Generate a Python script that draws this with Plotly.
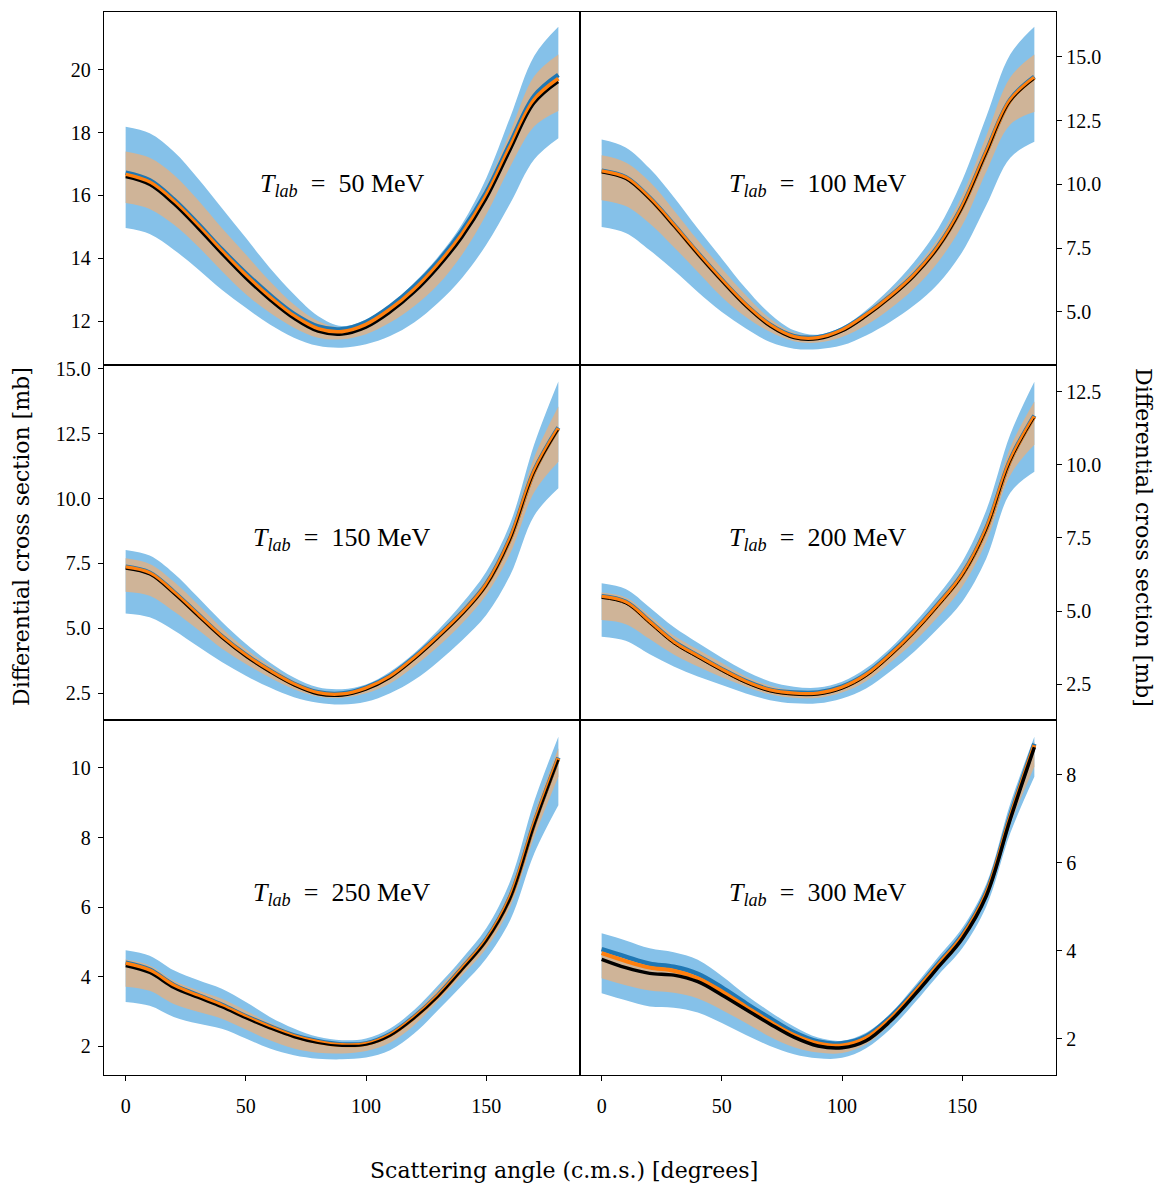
import plotly.graph_objects as go

# ---------------- data ----------------
angles = [0, 10, 20, 30, 40, 50, 60, 70, 80, 90, 100, 110, 120, 130, 140, 150, 160, 170, 180]
energies = ["50", "100", "150", "200", "250", "300"]

# T_lab = 50 MeV
p1_band_hi = [18.19, 17.98, 17.40, 16.55, 15.60, 14.65, 13.69, 12.85, 12.16, 11.84, 12.05, 12.53, 13.22, 14.05, 15.10, 16.55, 18.50, 20.45, 21.37]
p1_band_lo = [14.96, 14.77, 14.27, 13.66, 13.00, 12.42, 11.89, 11.47, 11.21, 11.15, 11.26, 11.52, 11.95, 12.58, 13.38, 14.43, 15.75, 17.15, 17.82]
p1_tan_hi = [17.40, 17.20, 16.66, 15.86, 14.96, 14.12, 13.27, 12.53, 12.00, 11.79, 12.00, 12.47, 13.11, 13.92, 14.93, 16.29, 18.03, 19.80, 20.49]
p1_tan_lo = [15.76, 15.57, 15.07, 14.38, 13.59, 12.85, 12.26, 11.79, 11.47, 11.42, 11.58, 11.95, 12.47, 13.16, 14.12, 15.39, 16.92, 18.20, 18.69]
p1_center = [16.66, 16.42, 15.81, 15.04, 14.22, 13.45, 12.76, 12.16, 11.75, 11.66, 11.89, 12.37, 13.00, 13.80, 14.77, 15.99, 17.55, 19.05, 19.72]
p1_blueline = [16.72, 16.48, 15.87, 15.10, 14.28, 13.52, 12.83, 12.23, 11.83, 11.74, 11.97, 12.46, 13.10, 13.90, 14.88, 16.10, 17.67, 19.17, 19.84]
p1_black = [16.58, 16.33, 15.72, 14.95, 14.13, 13.35, 12.66, 12.07, 11.66, 11.57, 11.79, 12.27, 12.90, 13.70, 14.66, 15.88, 17.43, 18.93, 19.61]

# T_lab = 100 MeV
p2_band_hi = [11.76, 11.45, 10.62, 9.51, 8.27, 7.09, 5.92, 4.93, 4.28, 4.11, 4.41, 5.07, 5.92, 6.96, 8.27, 10.16, 12.65, 15.10, 16.18]
p2_band_lo = [8.33, 8.10, 7.42, 6.63, 5.78, 5.00, 4.35, 3.82, 3.56, 3.54, 3.69, 4.08, 4.61, 5.26, 6.11, 7.35, 9.18, 11.05, 11.67]
p2_tan_hi = [11.14, 10.86, 10.10, 8.99, 7.81, 6.70, 5.65, 4.74, 4.18, 4.06, 4.35, 5.00, 5.78, 6.70, 7.88, 9.58, 11.90, 14.20, 15.09]
p2_tan_lo = [9.38, 9.15, 8.47, 7.55, 6.57, 5.59, 4.80, 4.22, 3.85, 3.80, 4.02, 4.48, 5.13, 5.92, 6.96, 8.40, 10.50, 12.35, 12.84]
p2_center = [10.52, 10.26, 9.45, 8.40, 7.29, 6.24, 5.26, 4.48, 4.02, 3.98, 4.28, 4.87, 5.59, 6.44, 7.55, 9.12, 11.25, 13.30, 14.19]
p2_blueline = [10.54, 10.28, 9.47, 8.42, 7.31, 6.26, 5.28, 4.50, 4.05, 4.01, 4.31, 4.90, 5.62, 6.47, 7.58, 9.15, 11.28, 13.33, 14.22]
p2_black = [10.45, 10.19, 9.38, 8.33, 7.22, 6.17, 5.19, 4.41, 3.95, 3.91, 4.21, 4.80, 5.52, 6.37, 7.48, 9.05, 11.18, 13.23, 14.12]

# T_lab = 150 MeV
p3_band_hi = [8.02, 7.80, 7.12, 6.20, 5.25, 4.40, 3.68, 3.10, 2.72, 2.65, 2.83, 3.32, 4.03, 4.93, 5.96, 7.18, 9.05, 12.10, 14.51]
p3_band_lo = [5.57, 5.42, 4.92, 4.30, 3.70, 3.17, 2.71, 2.34, 2.13, 2.06, 2.16, 2.49, 3.00, 3.71, 4.54, 5.51, 7.05, 9.35, 10.40]
p3_tan_hi = [7.70, 7.48, 6.80, 5.92, 5.00, 4.20, 3.55, 2.97, 2.63, 2.55, 2.77, 3.22, 3.94, 4.80, 5.77, 6.92, 8.75, 11.60, 13.55]
p3_tan_lo = [6.41, 6.25, 5.65, 4.95, 4.22, 3.62, 3.10, 2.65, 2.37, 2.32, 2.49, 2.87, 3.52, 4.29, 5.19, 6.28, 7.89, 10.25, 11.42]
p3_center = [7.35, 7.12, 6.38, 5.52, 4.67, 3.95, 3.35, 2.84, 2.50, 2.45, 2.68, 3.13, 3.84, 4.67, 5.57, 6.67, 8.45, 11.05, 12.71]
p3_blueline = [7.37, 7.14, 6.40, 5.54, 4.69, 3.97, 3.37, 2.86, 2.53, 2.48, 2.71, 3.16, 3.87, 4.70, 5.60, 6.70, 8.48, 11.08, 12.74]
p3_black = [7.28, 7.05, 6.31, 5.45, 4.60, 3.88, 3.28, 2.77, 2.43, 2.38, 2.61, 3.06, 3.77, 4.60, 5.50, 6.60, 8.38, 10.98, 12.64]

# T_lab = 200 MeV
p4_band_hi = [5.95, 5.75, 5.12, 4.45, 3.91, 3.40, 2.94, 2.59, 2.41, 2.38, 2.58, 3.04, 3.72, 4.58, 5.55, 6.69, 8.45, 11.05, 12.85]
p4_band_lo = [4.12, 3.98, 3.52, 3.10, 2.76, 2.47, 2.18, 1.95, 1.84, 1.84, 2.01, 2.35, 2.93, 3.61, 4.41, 5.32, 6.80, 9.05, 9.77]
p4_tan_hi = [5.63, 5.46, 4.84, 4.16, 3.68, 3.22, 2.76, 2.44, 2.29, 2.29, 2.49, 2.93, 3.61, 4.43, 5.38, 6.46, 8.08, 10.60, 12.17]
p4_tan_lo = [4.69, 4.55, 4.04, 3.51, 3.10, 2.73, 2.41, 2.15, 2.03, 2.03, 2.21, 2.60, 3.23, 3.95, 4.81, 5.83, 7.37, 9.65, 10.69]
p4_center = [5.49, 5.30, 4.62, 3.93, 3.45, 2.99, 2.58, 2.29, 2.18, 2.18, 2.38, 2.81, 3.49, 4.29, 5.21, 6.23, 7.80, 10.15, 11.66]
p4_blueline = [5.51, 5.32, 4.64, 3.95, 3.47, 3.01, 2.60, 2.31, 2.21, 2.21, 2.41, 2.84, 3.52, 4.32, 5.24, 6.26, 7.83, 10.18, 11.69]
p4_black = [5.43, 5.24, 4.56, 3.87, 3.39, 2.93, 2.52, 2.23, 2.12, 2.12, 2.32, 2.75, 3.43, 4.23, 5.15, 6.17, 7.74, 10.09, 11.60]

# T_lab = 250 MeV
p5_band_hi = [4.76, 4.60, 4.18, 3.90, 3.65, 3.27, 2.84, 2.51, 2.27, 2.17, 2.22, 2.51, 3.04, 3.75, 4.52, 5.39, 6.75, 9.05, 10.90]
p5_band_lo = [3.27, 3.16, 2.84, 2.65, 2.50, 2.22, 1.93, 1.74, 1.64, 1.62, 1.67, 1.88, 2.36, 3.04, 3.75, 4.52, 5.63, 7.55, 8.93]
p5_tan_hi = [4.49, 4.32, 3.88, 3.61, 3.36, 3.02, 2.67, 2.38, 2.19, 2.10, 2.14, 2.41, 2.94, 3.66, 4.40, 5.19, 6.52, 8.70, 10.57]
p5_tan_lo = [3.71, 3.59, 3.21, 2.99, 2.79, 2.48, 2.17, 1.93, 1.81, 1.79, 1.86, 2.10, 2.60, 3.30, 4.04, 4.81, 6.01, 8.02, 9.75]
p5_center = [4.38, 4.18, 3.74, 3.45, 3.17, 2.84, 2.55, 2.29, 2.12, 2.03, 2.06, 2.32, 2.82, 3.45, 4.23, 5.05, 6.28, 8.40, 10.28]
p5_blueline = [4.40, 4.20, 3.76, 3.47, 3.19, 2.86, 2.57, 2.31, 2.14, 2.05, 2.08, 2.34, 2.84, 3.47, 4.25, 5.07, 6.30, 8.42, 10.30]
p5_black = [4.30, 4.10, 3.67, 3.39, 3.12, 2.80, 2.51, 2.26, 2.09, 2.01, 2.04, 2.30, 2.80, 3.43, 4.20, 5.02, 6.24, 8.35, 10.23]

# T_lab = 300 MeV
p6_band_hi = [4.40, 4.24, 4.06, 3.97, 3.80, 3.43, 3.00, 2.62, 2.28, 2.03, 1.96, 2.14, 2.57, 3.19, 3.86, 4.52, 5.52, 7.35, 8.87]
p6_band_lo = [3.04, 2.88, 2.74, 2.71, 2.60, 2.36, 2.09, 1.84, 1.65, 1.56, 1.57, 1.79, 2.22, 2.81, 3.45, 4.06, 5.01, 6.68, 7.96]
p6_tan_hi = [4.08, 3.91, 3.75, 3.67, 3.51, 3.19, 2.83, 2.48, 2.17, 1.96, 1.91, 2.08, 2.50, 3.11, 3.78, 4.42, 5.40, 7.20, 8.76]
p6_tan_lo = [3.38, 3.22, 3.10, 3.05, 2.92, 2.66, 2.36, 2.05, 1.81, 1.69, 1.68, 1.88, 2.34, 2.95, 3.58, 4.21, 5.20, 6.87, 8.19]
p6_center = [3.95, 3.77, 3.62, 3.55, 3.38, 3.08, 2.73, 2.39, 2.09, 1.90, 1.85, 2.02, 2.45, 3.04, 3.68, 4.33, 5.30, 7.05, 8.68]
p6_blueline = [4.04, 3.87, 3.71, 3.64, 3.48, 3.17, 2.81, 2.47, 2.15, 1.94, 1.90, 2.06, 2.49, 3.07, 3.71, 4.36, 5.33, 7.08, 8.71]
p6_black = [3.81, 3.62, 3.49, 3.45, 3.30, 3.00, 2.67, 2.34, 2.04, 1.84, 1.80, 1.96, 2.40, 2.99, 3.63, 4.28, 5.25, 7.00, 8.63]

# y-axis tick values per panel
p1_ticks = [12, 14, 16, 18, 20]
p2_ticks = [5.0, 7.5, 10.0, 12.5, 15.0]
p3_ticks = [2.5, 5.0, 7.5, 10.0, 12.5, 15.0]
p4_ticks = [2.5, 5.0, 7.5, 10.0, 12.5]
p5_ticks = [2, 4, 6, 8, 10]
p6_ticks = [2, 4, 6, 8]
x_ticks = [0, 50, 100, 150]

# ---------------- styling ----------------
BAND_BLUE = "#85c1e9"
BAND_TAN = "#cfb498"
LINE_BLUE = "#1f77b4"
LINE_ORANGE = "#ff7f0e"
FONT = "Liberation Serif"
TITLE_FONT = "DejaVu Serif"

panels = [
    dict(hi=p1_band_hi, lo=p1_band_lo, thi=p1_tan_hi, tlo=p1_tan_lo, c=p1_center, b=p1_blueline, k=p1_black,
         ticks=p1_ticks, rng=[10.6, 21.84], fmt="d", kw=2.3),
    dict(hi=p2_band_hi, lo=p2_band_lo, thi=p2_tan_hi, tlo=p2_tan_lo, c=p2_center, b=p2_blueline, k=p2_black,
         ticks=p2_ticks, rng=[2.92, 16.76], fmt=".1f", kw=1.1),
    dict(hi=p3_band_hi, lo=p3_band_lo, thi=p3_tan_hi, tlo=p3_tan_lo, c=p3_center, b=p3_blueline, k=p3_black,
         ticks=p3_ticks, rng=[1.46, 15.15], fmt=".1f", kw=1.1),
    dict(hi=p4_band_hi, lo=p4_band_lo, thi=p4_tan_hi, tlo=p4_tan_lo, c=p4_center, b=p4_blueline, k=p4_black,
         ticks=p4_ticks, rng=[1.27, 13.42], fmt=".1f", kw=1.0),
    dict(hi=p5_band_hi, lo=p5_band_lo, thi=p5_tan_hi, tlo=p5_tan_lo, c=p5_center, b=p5_blueline, k=p5_black,
         ticks=p5_ticks, rng=[1.17, 11.38], fmt="d", kw=2.2),
    dict(hi=p6_band_hi, lo=p6_band_lo, thi=p6_tan_hi, tlo=p6_tan_lo, c=p6_center, b=p6_blueline, k=p6_black,
         ticks=p6_ticks, rng=[1.18, 9.25], fmt="d", kw=3.5),
]

W, H = 1160, 1186
col_dom = [[104 / W, 580 / W], [580 / W, 1056 / W]]
row_px = [(12, 365), (365, 720), (720, 1075)]
row_dom = [[1 - b / H, 1 - t / H] for (t, b) in row_px]

fig = go.Figure()
layout = dict(
    width=W, height=H,
    margin=dict(l=0, r=0, t=0, b=0, autoexpand=False),
    paper_bgcolor="white", plot_bgcolor="white",
    showlegend=False,
    font=dict(family=FONT, size=20, color="black"),
)
annotations = []

for i, p in enumerate(panels):
    n = i + 1
    row, col = divmod(i, 2)
    xa = "x" if n == 1 else f"x{n}"
    ya = "y" if n == 1 else f"y{n}"
    spline = dict(shape="spline", smoothing=1.0)

    def add(y, **kw):
        fig.add_trace(go.Scatter(x=angles, y=y, xaxis=xa, yaxis=ya, mode="lines",
                                 hoverinfo="skip", **kw))

    add(p["lo"], line=dict(width=0, color=BAND_BLUE, **spline))
    add(p["hi"], line=dict(width=0, color=BAND_BLUE, **spline), fill="tonexty", fillcolor=BAND_BLUE)
    add(p["tlo"], line=dict(width=0, color=BAND_TAN, **spline))
    add(p["thi"], line=dict(width=0, color=BAND_TAN, **spline), fill="tonexty", fillcolor=BAND_TAN)
    add(p["b"], line=dict(width=4.5, color=LINE_BLUE, **spline))
    add(p["c"], line=dict(width=4, color=LINE_ORANGE, **spline))
    add(p["k"], line=dict(width=p["kw"], color="black", **spline))

    bottom = row == 2
    xkey = "xaxis" if n == 1 else f"xaxis{n}"
    ykey = "yaxis" if n == 1 else f"yaxis{n}"
    layout[xkey] = dict(
        domain=col_dom[col], anchor=ya, range=[-9, 189],
        tickvals=x_ticks, showticklabels=bottom, ticks="outside" if bottom else "",
        ticklen=5, tickwidth=1.2, tickcolor="black", ticklabelstandoff=8,
        showline=True, linecolor="black", linewidth=1.4, mirror=True,
        showgrid=False, zeroline=False,
        tickfont=dict(family=FONT, size=20, color="black"),
    )
    layout[ykey] = dict(
        domain=row_dom[row], anchor=xa, range=p["rng"],
        tickvals=p["ticks"], tickformat=p["fmt"], side="left" if col == 0 else "right",
        ticks="outside", ticklen=5, tickwidth=1.2, tickcolor="black",
        ticklabelstandoff=3 if col == 0 else 0,
        showline=True, linecolor="black", linewidth=1.4, mirror=True,
        showgrid=False, zeroline=False,
        tickfont=dict(family=FONT, size=20, color="black"),
    )
    annotations.append(dict(
        text=f"<i>T</i><sub><i>lab</i></sub>&nbsp;&nbsp;=&nbsp;&nbsp;{energies[i]} MeV",
        xref=f"{xa} domain", yref=f"{ya} domain", x=0.5, y=0.51,
        xanchor="center", yanchor="middle", showarrow=False,
        font=dict(family=FONT, size=26, color="black"),
    ))

annotations += [
    dict(text="Differential cross section [mb]", xref="paper", yref="paper",
         x=22 / W, y=1 - 537 / H, textangle=-90, showarrow=False,
         xanchor="center", yanchor="middle", font=dict(family=TITLE_FONT, size=22, color="black")),
    dict(text="Differential cross section [mb]", xref="paper", yref="paper",
         x=1143 / W, y=1 - 537 / H, textangle=90, showarrow=False,
         xanchor="center", yanchor="middle", font=dict(family=TITLE_FONT, size=22, color="black")),
    dict(text="Scattering angle (c.m.s.) [degrees]", xref="paper", yref="paper",
         x=564 / W, y=1 - 1170 / H, showarrow=False,
         xanchor="center", yanchor="middle", font=dict(family=TITLE_FONT, size=22, color="black")),
]
layout["annotations"] = annotations
fig.update_layout(**layout)
fig.write_html("out.html")
